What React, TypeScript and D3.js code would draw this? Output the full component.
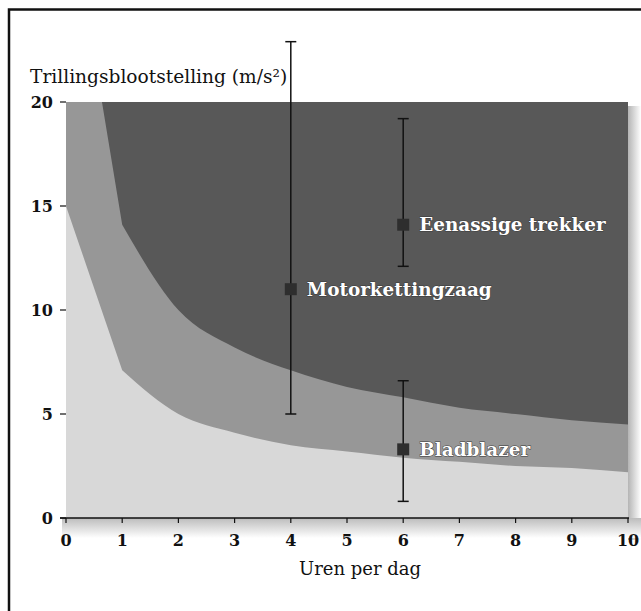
import React from "react";
import * as d3 from "d3";

// hours per day and the two exposure boundaries
const lowerHours = [0, 1, 2, 3, 4, 5, 6, 7, 8, 9, 10];
const lowerLimit = [15, 7.1, 5.0, 4.1, 3.5, 3.2, 2.9, 2.7, 2.5, 2.4, 2.2];
const upperHours = [0.64, 1, 2, 3, 4, 5, 6, 7, 8, 9, 10];
const upperLimit = [20, 14.1, 10.0, 8.2, 7.1, 6.3, 5.8, 5.3, 5.0, 4.7, 4.5];

// machines: hours, mean vibration and the range
const tools = ["Motorkettingzaag", "Eenassige trekker", "Bladblazer"];
const toolHours = [4, 6, 6];
const toolValues = [11, 14.1, 3.3];
const toolLow = [5, 12.1, 0.8];
const toolHigh = [22.9, 19.2, 6.6];

const xTicks = [0, 1, 2, 3, 4, 5, 6, 7, 8, 9, 10];
const yTicks = [0, 5, 10, 15, 20];

const W = 641;
const H = 611;
const FONT = "'DejaVu Serif', serif";

export default function App() {
  const x = d3.scaleLinear().domain([0, 10]).range([66, 628]);
  const y = d3.scaleLinear().domain([0, 20]).range([518, 102]);

  const curve = d3
    .line<[number, number]>()
    .curve(d3.curveMonotoneX)
    .x((d) => x(d[0]))
    .y((d) => y(d[1]));

  // straight first stretch, then a smooth curve, closed along the top (20)
  const zone = (hours: number[], vals: number[]) => {
    const pts = hours.map((h, i) => [h, vals[i]] as [number, number]);
    const rest = curve(pts.slice(1)) ?? "";
    return (
      `M${x(pts[0][0])},${y(20)}L${x(pts[0][0])},${y(pts[0][1])}` +
      "L" + rest.slice(1) +
      `L${x(hours[hours.length - 1])},${y(20)}Z`
    );
  };

  const [x0, x1] = x.range();

  return (
    <svg width={W} height={H} style={{ position: "absolute", left: 0, top: 0, background: "#fff" }}>
      <defs>
        <linearGradient id="shadeRight" x1="0" x2="1" y1="0" y2="0">
          <stop offset="0" stopColor="#b4b4b4" />
          <stop offset="1" stopColor="#fff" />
        </linearGradient>
        <linearGradient id="shadeBottom" x1="0" x2="0" y1="0" y2="1">
          <stop offset="0" stopColor="#bcbcbc" />
          <stop offset="1" stopColor="#fff" />
        </linearGradient>
      </defs>

      {/* soft scan shadow */}
      <rect x={x1} y={y(20) + 4} width={W - x1} height={y(0) - y(20) + 18} fill="url(#shadeRight)" />
      <rect x={x0 - 4} y={y(0)} width={W - x0 + 4} height={20} fill="url(#shadeBottom)" />

      {/* zones */}
      <rect x={x0} y={y(20)} width={x1 - x0} height={y(0) - y(20)} fill="#d8d8d8" />
      <path d={zone(lowerHours, lowerLimit)} fill="#979797" />
      <path d={zone(upperHours, upperLimit)} fill="#585858" />

      {/* x axis */}
      <line x1={x0 - 6} x2={x1 + 1} y1={y(0)} y2={y(0)} stroke="#111" strokeWidth={1.6} />
      {xTicks.map((t) => (
        <g key={t} transform={`translate(${x(t)},${y(0)})`}>
          <line y1={0} y2={5} stroke="#111" strokeWidth={1.2} />
          <text y={28} textAnchor="middle" fontFamily={FONT} fontWeight="bold" fontSize={16} fill="#111">
            {t}
          </text>
        </g>
      ))}
      <text x={360} y={575} textAnchor="middle" fontFamily={FONT} fontSize={18} fill="#111">
        Uren per dag
      </text>

      {/* y axis */}
      {yTicks.map((t) => (
        <g key={t} transform={`translate(${x0},${y(t)})`}>
          <line x1={-6} x2={0} stroke="#111" strokeWidth={1.2} />
          <text x={-13} dy="0.36em" textAnchor="end" fontFamily={FONT} fontWeight="bold" fontSize={16} fill="#111">
            {t}
          </text>
        </g>
      ))}
      <text x={30} y={83} fontFamily={FONT} fontSize={18.6} fill="#111">
        Trillingsblootstelling (m/s²)
      </text>

      {/* machines */}
      {tools.map((name, i) => {
        const cx = x(toolHours[i]);
        const cy = y(toolValues[i]);
        return (
          <g key={name}>
            <line x1={cx} x2={cx} y1={y(toolHigh[i])} y2={y(toolLow[i])} stroke="#111" strokeWidth={1.5} />
            <line x1={cx - 5.5} x2={cx + 5.5} y1={y(toolHigh[i])} y2={y(toolHigh[i])} stroke="#111" strokeWidth={1.5} />
            <line x1={cx - 5.5} x2={cx + 5.5} y1={y(toolLow[i])} y2={y(toolLow[i])} stroke="#111" strokeWidth={1.5} />
            <rect x={cx - 6} y={cy - 6} width={12} height={12} fill="#2e2e2e" />
            <text
              x={cx + 16}
              y={cy}
              dy="0.36em"
              fontFamily={FONT}
              fontWeight="bold"
              fontSize={18.4}
              fill="#fff"
              stroke="#3a3a3a"
              strokeWidth={1}
              paintOrder="stroke"
            >
              {name}
            </text>
          </g>
        );
      })}

      {/* frame */}
      <rect x={9} y={9.5} width={W + 20} height={H + 20} fill="none" stroke="#111" strokeWidth={2.5} />
    </svg>
  );
}
